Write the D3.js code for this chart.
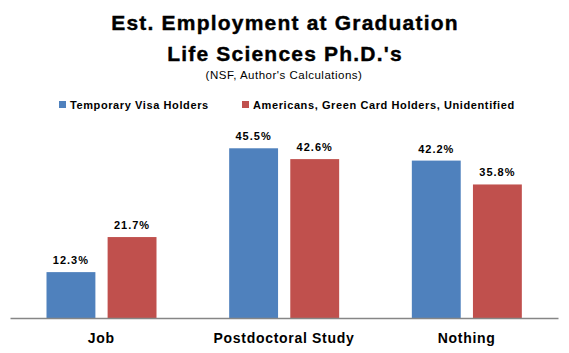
<!DOCTYPE html>
<html>
<head>
<meta charset="utf-8">
<script src="https://cdn.jsdelivr.net/npm/d3@7"></script>
<style>
  body { margin: 0; background: #fff; }
  text { font-family: "Liberation Sans", Arial, sans-serif; }
</style>
</head>
<body>
<script>
/* ------------------------------- Chart data ------------------------------- */
const categories = ["Job", "Postdoctoral Study", "Nothing"];
const seriesNames = ["Temporary Visa Holders", "Americans, Green Card Holders, Unidentified"];
const visaValues = [12.3, 45.5, 42.2];
const americanValues = [21.7, 42.6, 35.8];
const colors = ["#4F81BD", "#C0504D"];

/* ----------------------------- Window layout ------------------------------ */
const width = 569;
const height = 353;
const baseline = 318;

const svg = d3.select("body").append("svg").attr("width", width).attr("height", height);

const x0 = d3.scaleBand().domain(categories).range([10, 558]);
const x1 = d3.scaleBand().domain([0, 1]).range([36.5, 146.5]).paddingInner(0.2);
const y = d3.scaleLinear().domain([0, 50]).range([baseline, 131.5]);

/* --------------------------------- Titles --------------------------------- */
svg.append("text")
    .attr("x", 285).attr("y", 30)
    .attr("text-anchor", "middle")
    .attr("font-size", "21px").attr("font-weight", "bold")
    .attr("letter-spacing", "1.2px")
    .attr("stroke", "#000").attr("stroke-width", 0.4)
    .text("Est. Employment at Graduation");

svg.append("text")
    .attr("x", 285).attr("y", 61)
    .attr("text-anchor", "middle")
    .attr("font-size", "21px").attr("font-weight", "bold")
    .attr("letter-spacing", "1.2px")
    .attr("stroke", "#000").attr("stroke-width", 0.4)
    .text("Life Sciences Ph.D.'s");

svg.append("text")
    .attr("x", 284).attr("y", 79)
    .attr("text-anchor", "middle")
    .attr("font-size", "11.5px")
    .attr("letter-spacing", "0.5px")
    .text("(NSF, Author's Calculations)");

/* --------------------------------- Legend --------------------------------- */
const legendX = [59, 242];
const legend = svg.selectAll(".legend").data(seriesNames).enter().append("g")
    .attr("transform", (d, i) => `translate(${legendX[i]},0)`);

legend.append("rect")
    .attr("x", 0).attr("y", 101)
    .attr("width", 7).attr("height", 7)
    .attr("fill", (d, i) => colors[i]);

legend.append("text")
    .attr("x", 11).attr("y", 109)
    .attr("font-size", "11px").attr("font-weight", "bold")
    .attr("letter-spacing", "0.6px")
    .text(d => d);

/* ---------------------------------- Bars ---------------------------------- */
const rows = categories.map((c, i) => ({ category: c, values: [visaValues[i], americanValues[i]] }));

const groups = svg.selectAll(".group").data(rows).enter().append("g")
    .attr("transform", d => `translate(${x0(d.category)},0)`);

groups.selectAll("rect").data(d => d.values).enter().append("rect")
    .attr("x", (d, i) => x1(i))
    .attr("y", d => y(d))
    .attr("width", x1.bandwidth())
    .attr("height", d => baseline - y(d))
    .attr("fill", (d, i) => colors[i]);

groups.selectAll(".value").data(d => d.values).enter().append("text")
    .attr("x", (d, i) => x1(i) + x1.bandwidth() / 2)
    .attr("y", d => y(d) - 8)
    .attr("text-anchor", "middle")
    .attr("font-size", "11px").attr("font-weight", "bold")
    .attr("letter-spacing", "1px")
    .text(d => d.toFixed(1) + "%");

/* ---------------------------------- Axis ---------------------------------- */
const axis = svg.append("g")
    .attr("transform", `translate(0,${baseline})`)
    .call(d3.axisBottom(x0).tickSize(0).tickPadding(15));

axis.select(".domain").attr("stroke", "#868686").attr("stroke-width", 1.5);
axis.selectAll(".tick text")
    .attr("font-family", "Liberation Sans, Arial, sans-serif")
    .attr("font-size", "14px").attr("font-weight", "bold")
    .attr("letter-spacing", "0.7px")
    .attr("fill", "#000");
</script>
</body>
</html>
